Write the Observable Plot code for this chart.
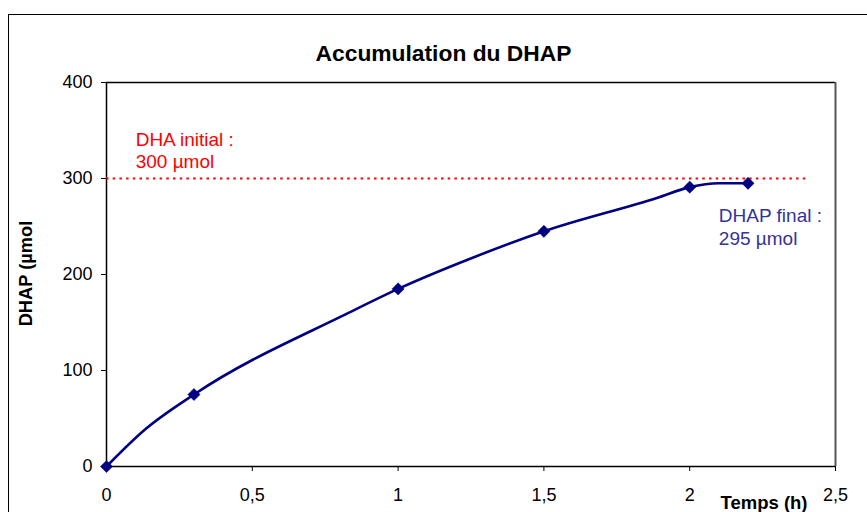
<!DOCTYPE html>
<html>
<head>
<meta charset="utf-8">
<script src="https://cdn.jsdelivr.net/npm/d3@7"></script>
<script src="https://cdn.jsdelivr.net/npm/@observablehq/plot@0.6"></script>
<style>
  html, body { margin: 0; padding: 0; background: #fff; overflow: hidden; }
  #wrap { position: relative; width: 867px; height: 512px; }
  #frame { position: absolute; left: 8px; top: 14px; width: 900px; height: 600px; border: 1.5px solid #000; box-sizing: border-box; pointer-events: none; }
  #chart { position: absolute; left: 0; top: 0; }
</style>
</head>
<body>
<div id="wrap"><div id="chart"></div><div id="frame"></div></div>
<script>
// Marked measurements
const times = [0, 0.3, 1, 1.5, 2, 2.2];
const dhap = [0, 75, 185, 245, 291, 295];
// Smoothed curve
const curveTimes = [0, 0.13, 0.3, 0.83, 1, 1.26, 1.5, 1.89, 2, 2.1, 2.2];
const curveValues = [0, 38, 75, 160, 185, 218, 245, 280, 291, 295, 295];
const xTicks = [0, 0.5, 1, 1.5, 2, 2.5];
const yTicks = [0, 100, 200, 300, 400];
const dhaInitial = 300;
const title = "Accumulation du DHAP";
const xLabel = "Temps (h)";
const yLabel = "DHAP (µmol";
const noteInitial = ["DHA initial :", "300 µmol"];
const noteFinal = ["DHAP final :", "295 µmol"];

const points = times.map((t, i) => ({t, v: dhap[i]}));
const curve = curveTimes.map((t, i) => ({t, v: curveValues[i]}));
const fmt = d => String(d).replace(".", ",");

const font = "'Liberation Sans', Arial, sans-serif";

const plot = Plot.plot({
  width: 867,
  height: 512,
  marginLeft: 106,
  marginRight: 32,
  marginTop: 82,
  marginBottom: 46,
  style: {fontFamily: font, fontSize: "18px", color: "#000", background: "transparent"},
  x: {domain: [0, 2.5], ticks: xTicks, tickFormat: fmt, tickSize: 5, tickPadding: 17, label: null},
  y: {domain: [0, 400], ticks: yTicks, tickSize: 5, tickPadding: 9, label: null},
  marks: [
    Plot.ruleY([400], {stroke: "#000", strokeWidth: 1.5}),
    Plot.ruleX([2.5], {stroke: "#555", strokeWidth: 2}),
    Plot.ruleX([0], {stroke: "#000", strokeWidth: 1.5}),
    Plot.ruleY([0], {stroke: "#000", strokeWidth: 1.5}),
    Plot.ruleY([dhaInitial], {x1: 0, x2: 2.4, stroke: "#ff0000", strokeWidth: 2, strokeDasharray: "2.5,4.2"}),
    Plot.line(curve, {x: "t", y: "v", stroke: "#000080", strokeWidth: 2.6, curve: "monotone-x"}),
    Plot.dot(points, {x: "t", y: "v", symbol: "diamond2", r: 5.5, fill: "#000080", stroke: "#000080", strokeWidth: 0.5}),
    Plot.text(noteInitial, {x: 0.1, y: [340.5, 317.5], text: d => d, fill: "#ff0000", textAnchor: "start", fontSize: 19}),
    Plot.text(noteFinal, {x: 2.1, y: [261.5, 237.5], text: d => d, fill: "#333399", textAnchor: "start", fontSize: 19})
  ]
});
document.getElementById("chart").appendChild(plot);

// Title and axis titles as SVG text inside the plot
const svg = d3.select(plot);
svg.append("text").attr("x", 443.5).attr("y", 61).attr("text-anchor", "middle")
  .attr("font-weight", "bold").attr("font-size", 22.8).attr("font-family", font).text(title);
svg.append("text").attr("x", 764).attr("y", 509).attr("text-anchor", "middle")
  .attr("font-weight", "bold").attr("font-size", 18.5).attr("font-family", font).text(xLabel);
svg.append("text").attr("transform", "translate(32,273.5) rotate(-90)").attr("text-anchor", "middle")
  .attr("font-weight", "bold").attr("font-size", 18.3).attr("font-family", font).text(yLabel);
</script>
</body>
</html>
